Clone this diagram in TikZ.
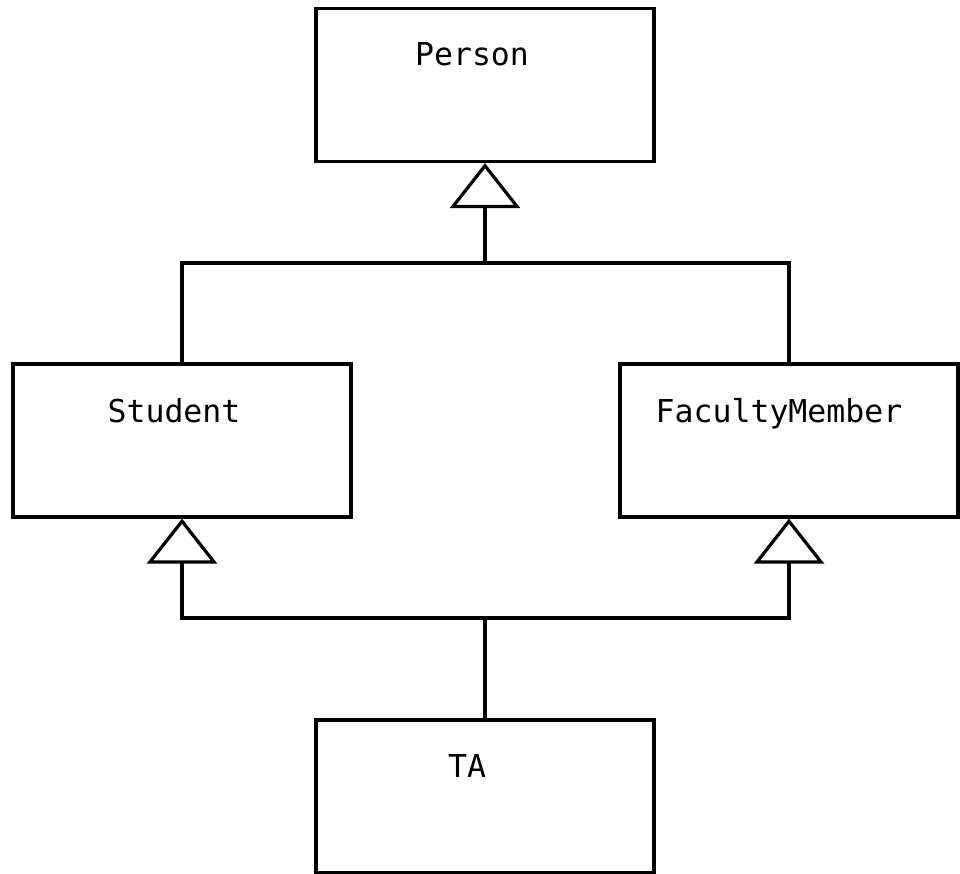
\documentclass[tikz,border=0pt]{standalone}
\usepackage{fontspec}
\setmonofont{DejaVu Sans Mono}
\usetikzlibrary{arrows.meta}

\tikzset{
	cls/.style={draw,line width=3.2pt,minimum width=338pt,minimum height=153pt,inner sep=0pt},
	cname/.style={anchor=base,inner sep=0pt,font=\ttfamily\fontsize{31.5}{36}\selectfont},
	isa/.style={-{Triangle[open,length=45pt,width=70pt]}},
}

\begin{document}
\begin{tikzpicture}[x=1pt,y=-1pt,line width=3.2pt]
	\useasboundingbox (0,0) rectangle (960,874);
	% classes
	\node[cls] (person) at (485,85) {};
	\node[cls] (student) at (182,440.5) {};
	\node[cls] (faculty) at (789,440.5) {};
	\node[cls] (ta) at (485,796.5) {};
	\node[cname] (person-t) at (472,66) {Person};
	\node[cname] (student-t) at (174,422) {Student};
	\node[cname] (faculty-t) at (779,422) {FacultyMember};
	\node[cname] (ta-t) at (467,777) {TA};
	% junctions
	\coordinate (top-j) at (485,263);
	\coordinate (bot-j) at (485,618);
	% generalisations
	\draw (student.north) |- (top-j) -| (faculty.north);
	\draw[isa] (top-j) -- (person.south);
	\draw[isa] (ta.north) -- (bot-j) -| (student.south);
	\draw[isa] (bot-j) -| (faculty.south);
\end{tikzpicture}
\end{document}
